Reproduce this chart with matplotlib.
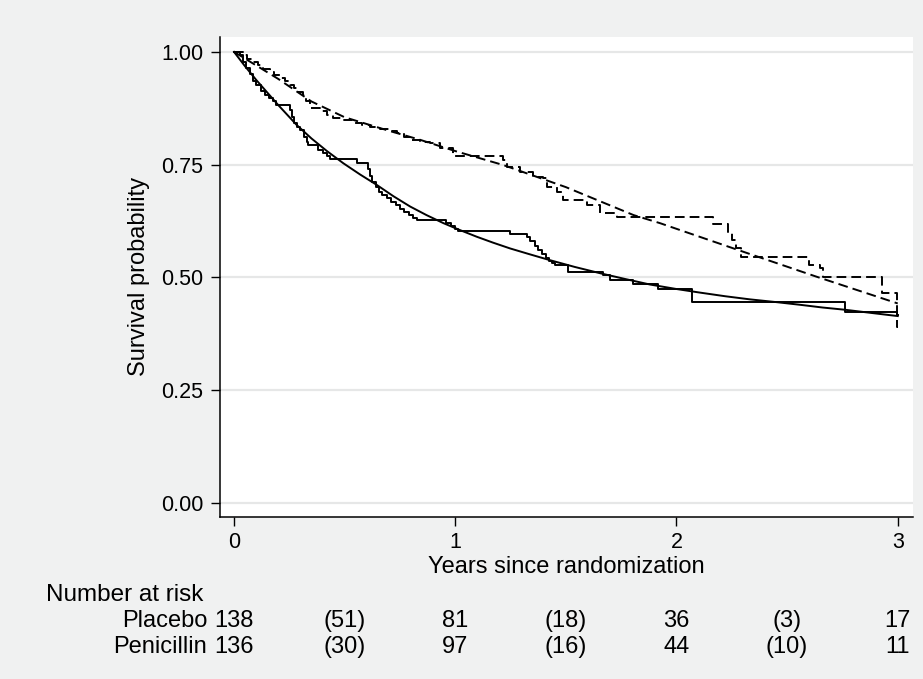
import matplotlib
matplotlib.use("Agg")
import matplotlib.pyplot as plt
from matplotlib.transforms import blended_transform_factory

plt.rcParams['font.family'] = ['Liberation Sans', 'DejaVu Sans']

# ---- Kaplan-Meier step data (time in years, survival after step) ----
placebo_km_t = [0.000, 0.025, 0.040, 0.055, 0.070, 0.085, 0.100, 0.120, 0.140, 0.160,
                0.175, 0.190, 0.255, 0.262, 0.270, 0.283, 0.300, 0.318, 0.330, 0.336,
                0.380, 0.400, 0.420, 0.434, 0.555, 0.607, 0.615, 0.625, 0.640, 0.655,
                0.668, 0.690, 0.710, 0.730, 0.750, 0.770, 0.790, 0.810, 0.826, 0.960,
                0.980, 1.000, 1.014, 1.248, 1.323, 1.340, 1.360, 1.375, 1.390, 1.410,
                1.425, 1.436, 1.450, 1.511, 1.670, 1.700, 1.805, 1.918, 2.069, 2.762,
                2.996, 3.000]
placebo_km_s = [1.000, 0.993, 0.978, 0.964, 0.950, 0.935, 0.927, 0.913, 0.905, 0.897,
                0.890, 0.882, 0.870, 0.856, 0.842, 0.834, 0.827, 0.812, 0.800, 0.794,
                0.783, 0.776, 0.770, 0.762, 0.754, 0.740, 0.725, 0.712, 0.700, 0.690,
                0.683, 0.675, 0.668, 0.660, 0.652, 0.645, 0.638, 0.632, 0.627, 0.620,
                0.613, 0.608, 0.603, 0.596, 0.589, 0.580, 0.570, 0.561, 0.552, 0.543,
                0.536, 0.531, 0.527, 0.511, 0.504, 0.494, 0.485, 0.473, 0.445, 0.424,
                0.416, 0.416]

penic_km_t = [0.000, 0.040, 0.060, 0.087, 0.110, 0.130, 0.163, 0.180, 0.210, 0.230,
              0.253, 0.270, 0.290, 0.313, 0.325, 0.344, 0.389, 0.420, 0.449, 0.490,
              0.539, 0.580, 0.615, 0.660, 0.700, 0.735, 0.770, 0.796, 0.841, 0.886,
              0.931, 0.991, 1.216, 1.233, 1.293, 1.353, 1.398, 1.414, 1.459, 1.489,
              1.594, 1.655, 1.730, 2.167, 2.235, 2.250, 2.268, 2.290, 2.597, 2.650,
              2.660, 2.928, 2.996, 3.000]
penic_km_s = [1.000, 0.993, 0.985, 0.978, 0.970, 0.963, 0.956, 0.949, 0.942, 0.935,
              0.927, 0.920, 0.912, 0.905, 0.890, 0.875, 0.868, 0.860, 0.853, 0.849,
              0.842, 0.838, 0.834, 0.830, 0.825, 0.820, 0.812, 0.805, 0.800, 0.797,
              0.786, 0.768, 0.760, 0.745, 0.734, 0.722, 0.720, 0.701, 0.690, 0.672,
              0.661, 0.643, 0.633, 0.618, 0.598, 0.583, 0.564, 0.546, 0.527, 0.520,
              0.501, 0.465, 0.390, 0.390]

# ---- Fitted (smooth) survival curves ----
placebo_fit_t = [0.00, 0.05, 0.10, 0.15, 0.20, 0.283, 0.35, 0.42, 0.494, 0.57, 0.645,
                 0.72, 0.796, 0.87, 0.947, 1.02, 1.097, 1.17, 1.248, 1.33, 1.428, 1.54,
                 1.655, 1.77, 1.88, 2.00, 2.107, 2.22, 2.333, 2.45, 2.559, 2.66, 2.762,
                 2.88, 3.00]
placebo_fit_s = [1.000, 0.968, 0.938, 0.910, 0.882, 0.838, 0.808, 0.780, 0.753, 0.728, 0.705,
                 0.680, 0.657, 0.638, 0.620, 0.605, 0.590, 0.577, 0.564, 0.552, 0.538, 0.523,
                 0.509, 0.496, 0.484, 0.474, 0.466, 0.458, 0.451, 0.445, 0.439, 0.433, 0.428,
                 0.421, 0.414]

penic_fit_t = [0.00, 0.10, 0.20, 0.35, 0.50, 0.70, 0.841, 1.00, 1.217, 1.50, 1.806,
               1.926, 2.258, 2.635, 3.00]
penic_fit_s = [1.000, 0.970, 0.940, 0.890, 0.855, 0.825, 0.805, 0.780, 0.749, 0.700, 0.638,
               0.620, 0.564, 0.501, 0.442]

# ---- Number at risk table ----
risk_times = [0, 0.5, 1, 1.5, 2, 2.5, 3]
risk_groups = ["Placebo", "Penicillin"]
risk_placebo = ["138", "(51)", "81", "(18)", "36", "(3)", "17"]
risk_penic = ["136", "(30)", "97", "(16)", "44", "(10)", "11"]

yticks = [0.0, 0.25, 0.5, 0.75, 1.0]
ytick_labels = ["0.00", "0.25", "0.50", "0.75", "1.00"]
xticks = [0, 1, 2, 3]

bg = '#F0F1F1'
fig = plt.figure(figsize=(9.23, 6.79), dpi=100, facecolor=bg)
ax = fig.add_axes([219.5 / 923, 1 - 516.7 / 679, (913 - 219.5) / 923, (516.7 - 37) / 679])
ax.set_facecolor('white')

lw = 1.4
dash = (0, (5.0, 2.6))
ax.step(placebo_km_t, placebo_km_s, where='post', color='black', lw=lw, zorder=3)
ax.step(penic_km_t, penic_km_s, where='post', color='black', lw=lw, ls=dash, zorder=3)
ax.plot(placebo_fit_t, placebo_fit_s, color='black', lw=lw, zorder=3)
ax.plot(penic_fit_t, penic_fit_s, color='black', lw=lw, ls=dash, zorder=3)

ax.set_xlim(-0.0656, 3.069)
ax.set_ylim(-0.031, 1.033)
ax.set_yticks(yticks)
ax.set_yticklabels(ytick_labels)
ax.set_xticks(xticks)
ax.yaxis.grid(True, color='#E6E7E7', lw=1.6, zorder=0)
ax.set_axisbelow(True)
for s in ['top', 'right']:
    ax.spines[s].set_visible(False)
for s in ['left', 'bottom']:
    ax.spines[s].set_color('black')
    ax.spines[s].set_linewidth(1.1)
ax.tick_params(axis='both', direction='out', length=6.5, width=1.0, colors='black',
               labelsize=15.5)
ax.tick_params(axis='y', pad=5)
ax.tick_params(axis='x', pad=4.5)
ax.set_xlabel("Years since randomization", fontsize=17, labelpad=2)
ax.set_ylabel("Survival probability", fontsize=17, labelpad=8)

tr = blended_transform_factory(ax.transData, fig.transFigure)
fs = 17
fig.text(46 / 923, 1 - 595 / 679, "Number at risk", fontsize=17.5, ha='left', va='center')
rows_y = [1 - 621 / 679, 1 - 647 / 679]
for name, vals, yy in zip(risk_groups, [risk_placebo, risk_penic], rows_y):
    fig.text(207 / 923, yy, name, fontsize=fs, ha='right', va='center')
    for t, v in zip(risk_times, vals):
        ax.text(t, yy, v, transform=tr, fontsize=fs, ha='center', va='center')

fig.savefig("out.png", dpi=100, facecolor=bg)
